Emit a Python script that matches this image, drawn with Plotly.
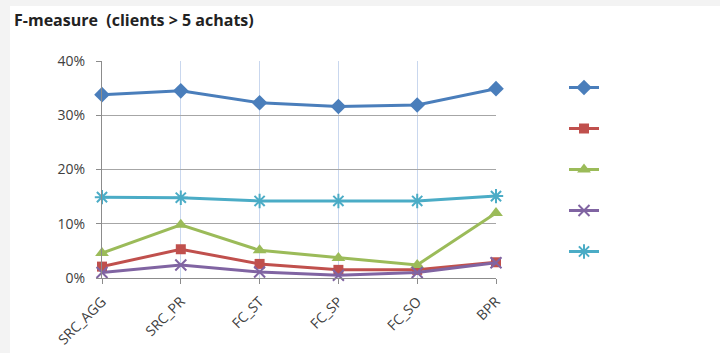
import plotly.graph_objects as go

categories = ["SRC_AGG", "SRC_PR", "FC_ST", "FC_SP", "FC_SO", "BPR"]
series_blue = [33.8, 34.5, 32.3, 31.6, 31.9, 34.9]
series_red = [2.1, 5.3, 2.6, 1.5, 1.5, 2.9]
series_green = [4.6, 9.8, 5.1, 3.7, 2.4, 12.0]
series_purple = [1.0, 2.4, 1.1, 0.5, 1.0, 2.8]
series_cyan = [14.9, 14.8, 14.2, 14.2, 14.2, 15.1]
y_ticks = [0, 10, 20, 30, 40]
y_tick_labels = ["0%", "10%", "20%", "30%", "40%"]

styles = [
    (series_blue, "#4A7EBB", "diamond", 12, 0),
    (series_red, "#C0504D", "square", 10, 0),
    (series_green, "#9BBB59", "triangle-up", 12, 0),
    (series_purple, "#8064A2", "x-thin-open", 11, 2),
    (series_cyan, "#4BACC6", "asterisk-open", 12, 2),
]

W, H = 720, 353
L, R, T, B = 102, 224, 61, 75

fig = go.Figure()
for i, (vals, col, sym, size, mlw) in enumerate(styles):
    marker = dict(symbol=sym, size=size, color=col)
    if mlw:
        marker["line"] = dict(color=col, width=mlw)
    fig.add_trace(go.Scatter(
        x=categories, y=vals, mode="lines+markers", name=" ",
        line=dict(color=col, width=3), marker=marker,
        cliponaxis=False, legendgroup=f"g{i}",
    ))

pw = W - L - R
ph = H - T - B
fig.add_shape(type="rect", xref="paper", yref="paper",
              x0=(10 - L) / pw, x1=(W - L) / pw,
              y0=(H - B - H) / ph, y1=(H - B - 6) / ph,
              fillcolor="white", line=dict(width=0), layer="below")

fig.update_layout(
    width=W, height=H,
    margin=dict(l=L, r=R, t=T, b=B, autoexpand=False),
    paper_bgcolor="#F3F3F3", plot_bgcolor="white",
    font=dict(family="Open Sans", size=11, color="#404040"),
    title=dict(text="<b>F-measure  (clients > 5 achats)</b>",
               x=14 / W, xanchor="left", xref="container",
               y=1 - 20 / H, yanchor="middle", yref="container",
               font=dict(family="Open Sans", size=16, color="#222222")),
    showlegend=True,
    legend=dict(x=(564 - L) / pw, xanchor="left", y=(H - B - 73) / ph, yanchor="top",
                tracegroupgap=22, font=dict(size=12), bgcolor="rgba(0,0,0,0)",
                itemclick=False),
    xaxis=dict(range=[0, 5], showgrid=True, gridcolor="#C9D7EE", gridwidth=1,
               showline=True, linecolor="#8C8C8C", linewidth=1,
               ticks="outside", ticklen=5, tickcolor="#8C8C8C",
               tickangle=-45, ticklabelstandoff=4, automargin=False,
               tickfont=dict(size=14, color="#404040"),
               zeroline=False),
    yaxis=dict(range=[0, 40], tickvals=y_ticks, ticktext=y_tick_labels,
               showgrid=True, gridcolor="#A6A6A6", gridwidth=1,
               showline=True, linecolor="#8C8C8C", linewidth=1,
               ticks="outside", ticklen=5, tickcolor="#8C8C8C",
               ticklabelstandoff=8, automargin=False,
               tickfont=dict(size=14, color="#404040"), zeroline=False),
)

fig.write_html("out.html")
